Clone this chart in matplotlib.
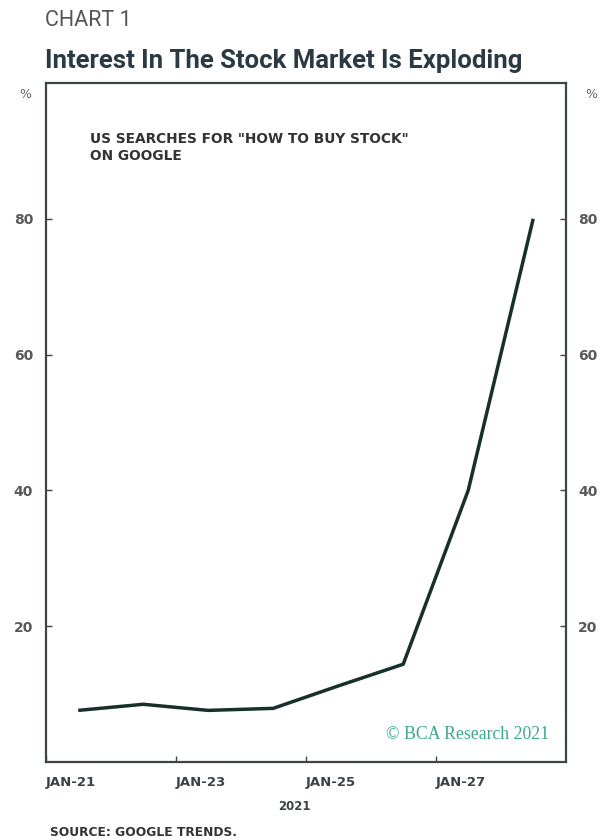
import matplotlib
matplotlib.use("Agg")
import matplotlib.pyplot as plt

# Google Trends: US searches for "how to buy stock", daily, Jan 21-28 2021
days = [21.5, 22.5, 23.5, 24.5, 25.5, 26.5, 27.5, 28.5]
interest = [7.6, 8.5, 7.6, 7.9, 11.2, 14.4, 40, 80]
x_ticks = [21, 23, 25, 27]
x_labels = ['JAN-21', 'JAN-23', 'JAN-25', 'JAN-27']
y_ticks = [20, 40, 60, 80]

W, H = 601, 840
fig = plt.figure(figsize=(W / 100, H / 100), dpi=100)
fig.patch.set_facecolor('white')

# axes box in pixel coordinates
left, right, top, bottom = 45.7, 565.7, 83, 762
ax = fig.add_axes([left / W, 1 - bottom / H, (right - left) / W, (bottom - top) / H])

spine_col = '#3d4548'
ax.plot(days, interest, color='#17302b', linewidth=2.5, solid_capstyle='butt')

ax.set_xlim(21, 29)
ax.set_ylim(0, 100)

for s in ax.spines.values():
    s.set_color(spine_col)
    s.set_linewidth(1.6)

ax.set_xticks(x_ticks)
ax.set_xticklabels(x_labels, fontsize=9.5, fontweight='bold', color='#3b4246')
for lab in ax.get_xticklabels():
    lab.set_ha('left')
ax.set_yticks(y_ticks)
ax.set_yticklabels([str(v) for v in y_ticks])
ax.tick_params(axis='x', direction='in', length=4, width=1, color=spine_col, pad=10)
ax.tick_params(axis='y', direction='in', length=4, width=1, color=spine_col, pad=9,
               left=True, right=True, labelleft=True, labelright=True,
               labelsize=10, labelcolor='#5a5a5a')
for lab in ax.get_yticklabels():
    lab.set_fontweight('bold')

# inner label
ax.text(0.085, 0.905, 'US SEARCHES FOR "HOW TO BUY STOCK"\nON GOOGLE',
        transform=ax.transAxes, ha='left', va='center', fontsize=9.9,
        fontweight='bold', color='#333333', linespacing=1.25)

# copyright
ax.text(0.968, 0.04, '\u00a9 BCA Research 2021', transform=ax.transAxes,
        ha='right', va='center', fontsize=12.8, family='Liberation Serif',
        color='#3aa88f')

# texts outside the axes
def px(x, y):
    return x / W, 1 - y / H

fig.text(*px(45, 26), 'CHART 1', fontsize=15.5, family='Roboto',
         color='#555555', ha='left', va='baseline')
title = fig.text(*px(45, 68), 'Interest In The Stock Market Is Exploding', fontsize=22,
                 family='Roboto', fontweight='bold',
                 color='#2b3a42', ha='left', va='baseline')

# shrink the title so it spans the same width as in the original (about 478 px)
renderer = fig.canvas.get_renderer()
tw = title.get_window_extent(renderer).width
title.set_fontsize(22 * 478 / tw)

fig.text(*px(25, 94), '%', fontsize=9, color='#666666', ha='center', va='center')
fig.text(*px(591, 94), '%', fontsize=9, color='#666666', ha='center', va='center')
fig.text(*px(294, 806), '2021', fontsize=8.5, fontweight='bold', color='#3b4246',
         ha='center', va='center')
fig.text(*px(50, 833), 'SOURCE: GOOGLE TRENDS.', fontsize=8.8, fontweight='bold',
         color='#333333', ha='left', va='center')

fig.savefig('out.png', dpi=100, facecolor='white')
